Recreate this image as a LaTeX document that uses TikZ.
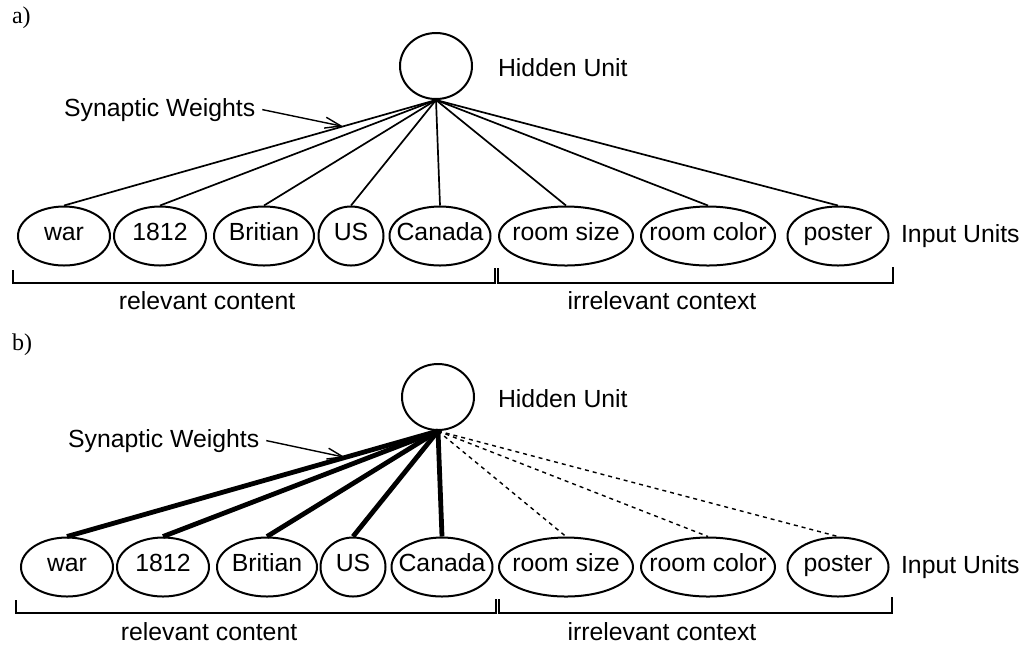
\documentclass[tikz,border=0pt]{standalone}
\usepackage{fontspec}
\setmainfont{Liberation Sans}
\newfontfamily\panelfont{Liberation Serif}
\usetikzlibrary{shapes.geometric,arrows.meta}

\begin{document}
\begin{tikzpicture}[x=0.5pt, y=-0.5pt,
    font=\fontsize{12.4}{14}\selectfont,
    unit/.style={draw, ellipse, line width=1pt, inner sep=0pt, minimum width=36pt, minimum height=33pt},
    input/.style={draw, ellipse, line width=1pt, inner sep=0pt, minimum height=29.5pt,
        text height=0.72em, text depth=0.27em,
        execute at begin node={\hbox to 0pt\bgroup\hss}, execute at end node={\hss\egroup}},
    weight/.style={line width=0.85pt},
    strong/.style={line width=2.4pt},
    weak/.style={line width=0.7pt, dash pattern=on 2pt off 2pt},
    arrow/.style={-{Straight Barb[length=8pt,width=5.5pt]}, line width=0.7pt},
    bracket/.style={line width=0.8pt},
    panel/.style={font=\panelfont\fontsize{12}{14}\selectfont}]

    \useasboundingbox (0,0) rectangle (1021,645);

    % Panel a: all weights alike
    \node[panel, anchor=base west] (labA) at (5,23) {a)};
    \node[unit] (hidA) at (436,66) {};
    \node[anchor=base west] (hidTxtA) at (491,76) {Hidden Unit};
    \node[anchor=base west] (synA) at (57,116) {Synaptic Weights};

    \node[input, minimum width=46pt] (warA) at (64,236) {war};
    \node[input, minimum width=46pt] (yearA) at (160,236) {1812};
    \node[input, minimum width=50pt] (britA) at (264,236) {Britian};
    \node[input, minimum width=32.5pt] (usA) at (351,236) {US};
    \node[input, minimum width=50.5pt] (canA) at (440,236) {Canada};
    \node[input, minimum width=67pt] (sizeA) at (566,236) {room size};
    \node[input, minimum width=67pt] (colorA) at (708,236) {room color};
    \node[input, minimum width=50.5pt] (posterA) at (838,236) {poster};
    \node[anchor=base west] (inTxtA) at (894,242) {Input Units};

    \draw[weight] (hidA.south) -- coordinate[pos=0.25] (tipA) (warA.north);
    \draw[weight] (hidA.south) -- (yearA.north);
    \draw[weight] (hidA.south) -- (britA.north);
    \draw[weight] (hidA.south) -- (usA.north);
    \draw[weight] (hidA.south) -- (canA.north);
    \draw[weight] (hidA.south) -- (sizeA.north);
    \draw[weight] (hidA.south) -- (colorA.north);
    \draw[weight] (hidA.south) -- (posterA.north);
    \draw[arrow] (synA.east) -- (tipA);

    \draw[bracket] (13,270) -- (13,283) -- (495,283) -- (495,268);
    \draw[bracket] (498,268) -- (498,283) -- (893,283) -- (893,267);
    \node[anchor=base] (relA) at (207,309) {relevant content};
    \node[anchor=base] (irrA) at (662,309) {irrelevant context};

    % Panel b: relevant weights strong, context weights weak
    \begin{scope}[shift={(2,331)}]
    \node[panel, anchor=base west] (labB) at (3,19) {b)};
    \node[unit] (hidB) at (436,66) {};
    \node[anchor=base west] (hidTxtB) at (489,76) {Hidden Unit};
    \node[anchor=base west] (synB) at (59,116) {Synaptic Weights};

    \node[input, minimum width=46pt] (warB) at (65,236) {war};
    \node[input, minimum width=46pt] (yearB) at (161,236) {1812};
    \node[input, minimum width=50pt] (britB) at (265,236) {Britian};
    \node[input, minimum width=32.5pt] (usB) at (351,236) {US};
    \node[input, minimum width=50.5pt] (canB) at (440,236) {Canada};
    \node[input, minimum width=67pt] (sizeB) at (564,236) {room size};
    \node[input, minimum width=67pt] (colorB) at (706,236) {room color};
    \node[input, minimum width=50.5pt] (posterB) at (836,236) {poster};
    \node[anchor=base west] (inTxtB) at (892,242) {Input Units};

    \draw[strong] (hidB.south) -- coordinate[pos=0.25] (tipB) (warB.north);
    \draw[strong] (hidB.south) -- (yearB.north);
    \draw[strong] (hidB.south) -- (britB.north);
    \draw[strong] (hidB.south) -- (usB.north);
    \draw[strong] (hidB.south) -- (canB.north);
    \draw[weak] (hidB.south) -- (sizeB.north);
    \draw[weak] (hidB.south) -- (colorB.north);
    \draw[weak] (hidB.south) -- (posterB.north);
    \draw[arrow] (synB.east) -- (tipB);

    \draw[bracket] (14,269) -- (14,282) -- (494,282) -- (494,268);
    \draw[bracket] (497,268) -- (497,282) -- (890,282) -- (890,266);
    \node[anchor=base] (relB) at (207,309) {relevant content};
    \node[anchor=base] (irrB) at (660,309) {irrelevant context};
    \end{scope}
\end{tikzpicture}
\end{document}
